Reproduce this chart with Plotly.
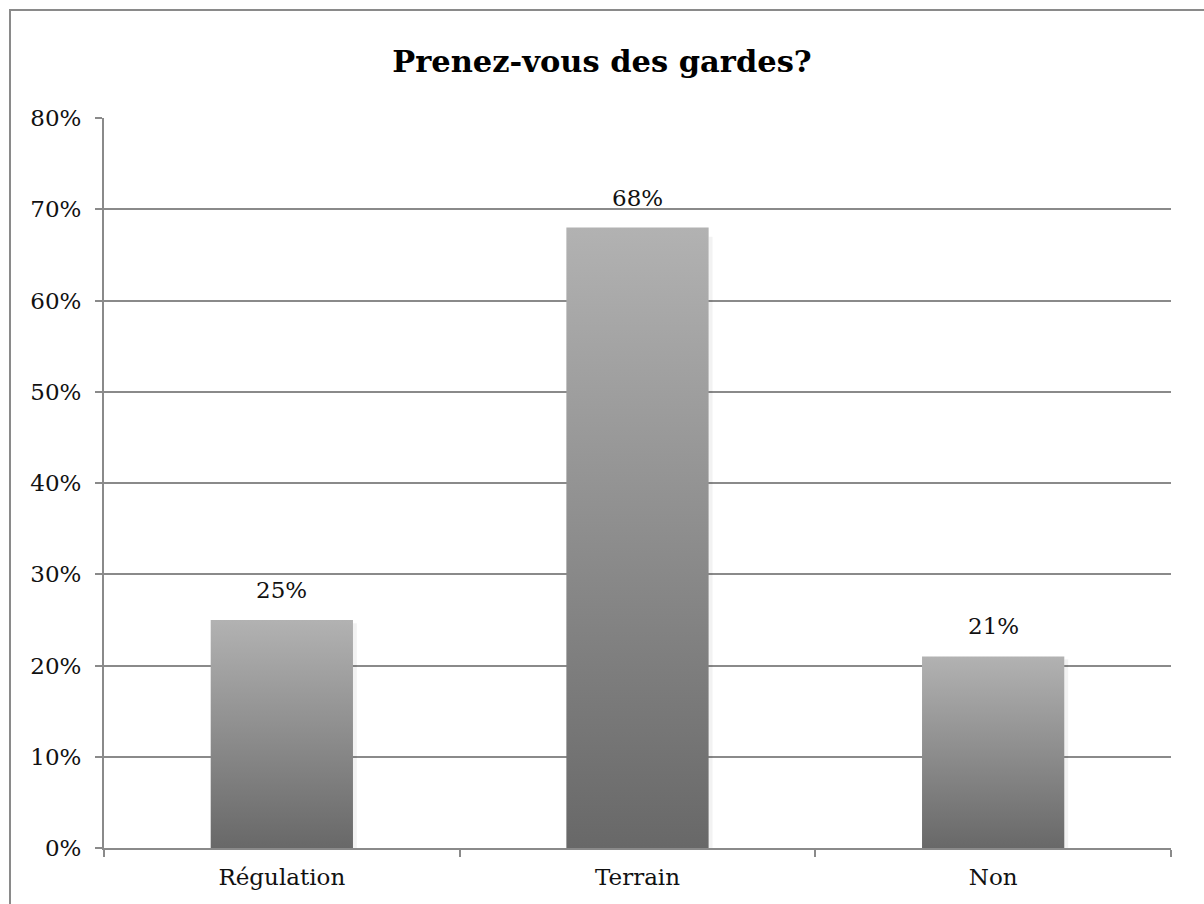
import plotly.graph_objects as go

# Survey answers: "Prenez-vous des gardes?"
categories = ["Régulation", "Terrain", "Non"]
shares = [25, 68, 21]  # percent of respondents
value_labels = ["25%", "68%", "21%"]
y_ticks = [0, 10, 20, 30, 40, 50, 60, 70, 80]
y_tick_labels = ["0%", "10%", "20%", "30%", "40%", "50%", "60%", "70%", "80%"]

FONT = "DejaVu Serif"
GRID = "#8a8a8a"
BAR_WIDTH = 0.4
SHADOW = 0.011  # shadow width in category units
positions = list(range(len(categories)))

fig = go.Figure()

# Soft drop shadow along the right edge of each bar
for pos, val in zip(positions, shares):
    x1 = pos + BAR_WIDTH / 2
    fig.add_trace(go.Scatter(
        x=[x1, x1, x1 + SHADOW, x1 + SHADOW, x1],
        y=[0, val * 0.985, val * 0.985, 0, 0],
        mode="lines", line=dict(width=0, color="rgba(0,0,0,0)"),
        fill="toself", fillcolor="rgba(0,0,0,0.05)",
        hoverinfo="skip", showlegend=False,
    ))

# Each bar is a filled rectangle with a vertical grey gradient (dark bottom, light top)
for pos, cat, val in zip(positions, categories, shares):
    x0, x1 = pos - BAR_WIDTH / 2, pos + BAR_WIDTH / 2
    fig.add_trace(go.Scatter(
        x=[x0, x0, x1, x1, x0],
        y=[0, val, val, 0, 0],
        mode="lines",
        line=dict(width=0, color="rgba(0,0,0,0)"),
        fill="toself",
        fillgradient=dict(
            type="vertical",
            colorscale=[[0, "#686868"], [1, "#b2b2b2"]],
        ),
        name=cat,
        hoveron="fills",
        hoverinfo="name",
        showlegend=False,
    ))

# Value labels above bars
for pos, val, lab in zip(positions, shares, value_labels):
    fig.add_annotation(
        x=pos, y=val, text=lab, showarrow=False,
        yanchor="bottom", yshift=15,
        font=dict(family=FONT, size=23, color="#111111"),
    )

fig.update_layout(
    width=1204, height=904,
    margin=dict(l=104, r=33, t=118, b=56),
    paper_bgcolor="white", plot_bgcolor="white",
    title=dict(
        text="<b>Prenez-vous des gardes?</b>",
        x=0.5, xanchor="center", y=1 - 61 / 904, yanchor="middle",
        font=dict(family=FONT, size=30.5, color="#000000"),
    ),
    font=dict(family=FONT, size=23, color="#111111"),
    showlegend=False,
    xaxis=dict(
        range=[-0.5, 2.5],
        tickmode="array", tickvals=positions, ticktext=categories,
        ticks="", showgrid=False, zeroline=False,
        showline=True, linecolor=GRID, linewidth=2,
        minor=dict(
            tickmode="array", tickvals=[-0.5, 0.5, 1.5, 2.5],
            ticks="outside", ticklen=7, tickcolor=GRID, tickwidth=2,
            showgrid=False,
        ),
        ticklabelstandoff=7,
        fixedrange=True,
    ),
    yaxis=dict(
        range=[0, 80],
        tickmode="array", tickvals=y_ticks, ticktext=y_tick_labels,
        ticks="outside", ticklen=7, tickcolor=GRID, tickwidth=2,
        showgrid=True, gridcolor=GRID, gridwidth=2,
        zeroline=False,
        showline=True, linecolor=GRID, linewidth=2,
        ticklabelstandoff=9,
        fixedrange=True,
    ),
)

# Outer chart frame
pw, ph = 1204 - 104 - 33, 904 - 118 - 56
fig.add_shape(
    type="rect", xref="paper", yref="paper",
    x0=(10 - 104) / pw, x1=(1206 - 104) / pw,
    y0=(848 - 906) / ph, y1=(848 - 10) / ph,
    line=dict(color=GRID, width=2), fillcolor="rgba(0,0,0,0)",
    layer="below",
)

fig.write_html("out.html")
